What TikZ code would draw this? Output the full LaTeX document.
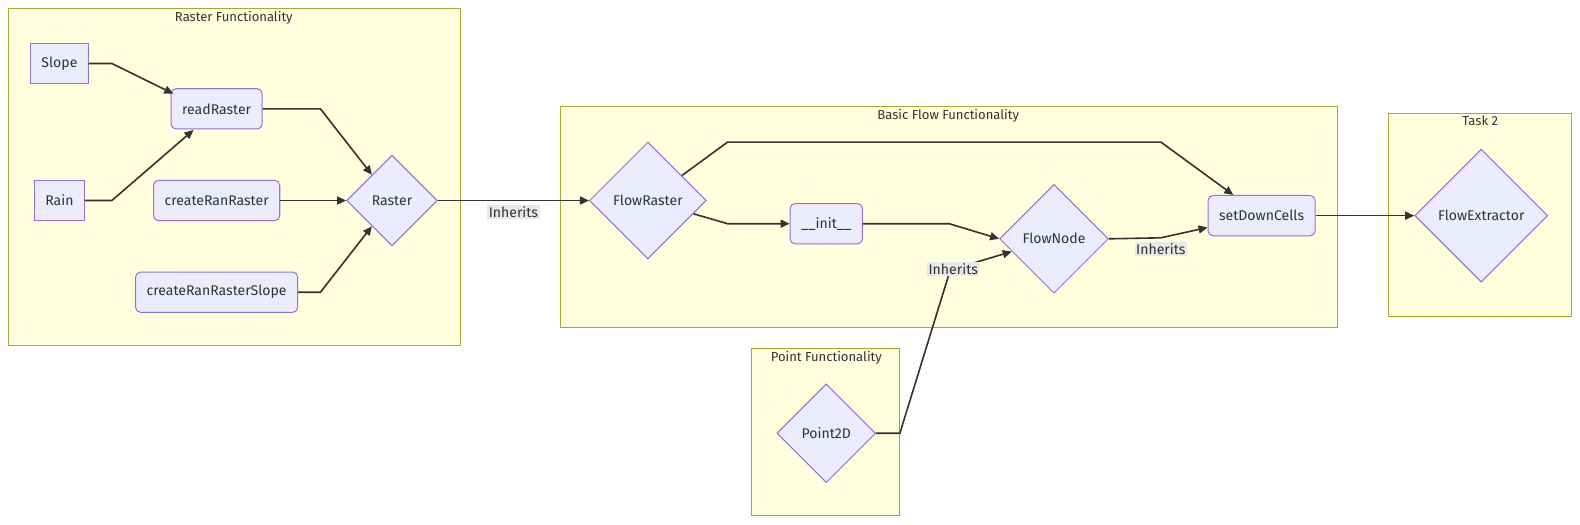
\documentclass[tikz,border=0pt]{standalone}
\usepackage{fontspec}
\setmainfont{Fira Sans}
\usetikzlibrary{positioning, shapes.geometric, arrows.meta, calc}

\definecolor{nodefill}{HTML}{ECECFF}
\definecolor{nodeline}{HTML}{9370DB}
\definecolor{groupfill}{HTML}{FFFFDE}
\definecolor{groupline}{HTML}{AAAA33}
\definecolor{edgeline}{HTML}{333333}
\definecolor{labelfill}{HTML}{E8E8E8}

\tikzset{
  group/.style={draw=groupline, fill=groupfill, line width=1pt},
  grouptitle/.style={text=edgeline, font=\fontsize{13}{15}\selectfont, anchor=north, inner sep=0pt},
  box/.style={draw=nodeline, fill=nodefill, line width=1pt, text=edgeline,
    font=\fontsize{14}{16}\selectfont, minimum height=40bp, inner xsep=11bp},
  roundbox/.style={box, rounded corners=5pt},
  choice/.style={diamond, aspect=1, draw=nodeline, fill=nodefill, line width=1pt,
    text=edgeline, font=\fontsize{14}{16}\selectfont, inner sep=0pt},
  link/.style={draw=edgeline, line width=1.6pt, -{Triangle[length=9pt,width=8pt]}},
  linklabel/.style={fill=labelfill, text=edgeline, font=\fontsize{14}{16}\selectfont, inner sep=1.5pt}
}

\begin{document}
\begin{tikzpicture}[x=1bp, y=-1bp]
  \useasboundingbox (0,0) rectangle (1568,521);

  % Groups
  \draw[group] (8,8) rectangle (457,343);
  \node[grouptitle] (rastertitle) at (232,11) {Raster Functionality};
  \draw[group] (556,106) rectangle (1327,325);
  \node[grouptitle] (flowtitle) at (941,108) {Basic Flow Functionality};
  \draw[group] (1378,113) rectangle (1560,314);
  \node[grouptitle] (tasktitle) at (1469,115) {Task 2};
  \draw[group] (746,346) rectangle (893,512);
  \node[grouptitle] (pointtitle) at (820,348) {Point Functionality};

  % Nodes
  \node[box] (Slope) at (59,63) {Slope};
  \node[box] (Rain) at (59,199) {Rain};
  \node[roundbox] (readRaster) at (215,108) {readRaster};
  \node[roundbox] (createRanRaster) at (215,199) {createRanRaster};
  \node[roundbox] (createRanRasterSlope) at (215,290) {createRanRasterSlope};
  \node[choice, minimum size=90bp] (Raster) at (389,199) {Raster};
  \node[choice, minimum size=116bp] (FlowRaster) at (643,199) {FlowRaster};
  \node[roundbox] (init) at (820,222) {\_\_init\_\_};
  \node[choice, minimum size=108bp] (FlowNode) at (1046,237) {FlowNode};
  \node[roundbox] (setDownCells) at (1252,214) {setDownCells};
  \node[choice, minimum size=132bp] (FlowExtractor) at (1470,214) {FlowExtractor};
  \node[choice, minimum size=98bp] (Point2D) at (820,430) {Point2D};

  % Arrows
  \draw[link] (Slope.east) -- (111,63) -- (172,93);
  \draw[link] (Rain.east) -- (111,199) -- (192,129);
  \draw[link] (readRaster.east) -- (318,108) -- (Raster);
  \draw[link] (createRanRaster.east) -- (Raster.west);
  \draw[link] (createRanRasterSlope.east) -- (318,290) -- (Raster);
  \draw[link] (Raster.east) -- (FlowRaster.west)
    node[linklabel, midway, below=4pt] (inherits1) {Inherits};
  \draw[link] (FlowRaster) -- (722,141) -- (1152,141) -- (setDownCells);
  \draw[link] (FlowRaster) -- (722,222) -- (init.west);
  \draw[link] (init.east) -- (942,222) -- (FlowNode.west);
  \draw[link] (FlowNode.east) -- (1152,236) -- (setDownCells);
  \node[linklabel] (inherits2) at (1152,247) {Inherits};
  \draw[link] (Point2D.east) -- (893,430) -- (943,268) -- (FlowNode);
  \node[linklabel] (inherits3) at (946,267) {Inherits};
  \draw[link] (setDownCells.east) -- (FlowExtractor.west);
\end{tikzpicture}
\end{document}
